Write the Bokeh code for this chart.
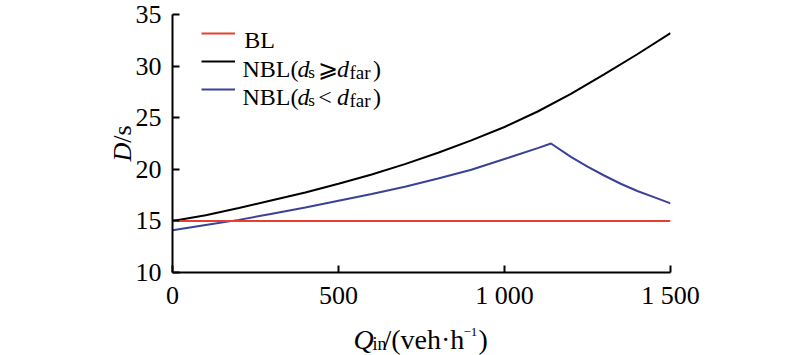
import math
from bokeh.plotting import figure
from bokeh.layouts import column, row
from bokeh.models import Label, Legend, LegendItem, FixedTicker, Range1d
from bokeh.embed import file_html
from bokeh.resources import INLINE

# ---------------- data ----------------
q_main = [0, 100, 200, 300, 400, 500, 600, 700, 800, 900, 1000, 1100, 1200, 1300, 1400, 1500]
bl = [15.0, 15.0, 15.0, 15.0, 15.0, 15.0, 15.0, 15.0, 15.0, 15.0, 15.0, 15.0, 15.0, 15.0, 15.0, 15.0]
nbl_far = [15.0, 15.55, 16.25, 17.0, 17.75, 18.6, 19.5, 20.5, 21.6, 22.8, 24.1, 25.6, 27.3, 29.2, 31.15, 33.2]

q_near = [0, 100, 200, 300, 400, 500, 600, 700, 800, 900, 1000, 1100, 1140,
          1200, 1250, 1300, 1350, 1400, 1450, 1500]
nbl_near = [14.1, 14.6, 15.1, 15.7, 16.3, 16.95, 17.6, 18.3, 19.1, 19.95, 21.0, 22.05, 22.5,
            21.2, 20.25, 19.4, 18.6, 17.9, 17.3, 16.7]

x_ticks = [0, 500, 1000, 1500]
x_tick_labels = ["0", "500", "1 000", "1 500"]
y_ticks = [10, 15, 20, 25, 30, 35]

RED = "#e5402f"
BLACK = "#000000"
BLUE = "#3a4197"
FONT = "Liberation Serif"

# ---------------- main figure ----------------
p = figure(width=668, height=320, output_backend="svg", toolbar_location=None,
           x_range=Range1d(0, 1500), y_range=Range1d(10, 35),
           min_border_left=38, min_border_right=130, min_border_top=14, min_border_bottom=48)
p.outline_line_color = None
p.xgrid.visible = False
p.ygrid.visible = False
p.background_fill_color = "white"
p.border_fill_color = "white"

for ax in (p.xaxis[0], p.yaxis[0]):
    ax.axis_line_width = 2
    ax.axis_line_color = "black"
    ax.major_tick_line_width = 2
    ax.major_tick_line_color = "black"
    ax.major_tick_in = 7
    ax.major_tick_out = 0
    ax.minor_tick_line_color = None
    ax.major_label_text_font = FONT
    ax.major_label_text_font_size = "26px"
    ax.major_label_text_color = "black"
p.xaxis.major_label_standoff = 8
p.yaxis.major_label_standoff = 11

p.xaxis.ticker = FixedTicker(ticks=x_ticks)
p.xaxis.major_label_overrides = {t: s for t, s in zip(x_ticks, x_tick_labels)}
p.yaxis.ticker = FixedTicker(ticks=y_ticks)

r_far = p.line(q_main, nbl_far, line_color=BLACK, line_width=2)
r_near = p.line(q_near, nbl_near, line_color=BLUE, line_width=2)
r_bl = p.line(q_main, bl, line_color=RED, line_width=2)

# legend (sample lines) – text drawn separately to allow italics / subscripts
legend = Legend(items=[LegendItem(label=" ", renderers=[r_bl]),
                       LegendItem(label=" ", renderers=[r_far]),
                       LegendItem(label=" ", renderers=[r_near])],
                location=(29, 169), orientation="vertical",
                glyph_width=34, glyph_height=28, label_height=28, label_width=0,
                label_standoff=0, spacing=0, padding=0, margin=0,
                label_text_font_size="1px",
                border_line_alpha=0, background_fill_alpha=0)
p.add_layout(legend)


def lab(fig, x, y, text, size, style="normal", angle=0.0, align="left", baseline="alphabetic"):
    fig.add_layout(Label(x=x, y=y, x_units="screen", y_units="screen", text=text,
                         text_font=FONT, text_font_size=size, text_font_style=style,
                         text_color="black", text_baseline=baseline, text_align=align,
                         angle=angle))


# legend texts
lab(p, 71.7, 232.7, "BL", "24px")
for base, sub_base, rel in ((203.7, 199.7, "\u2a7e"), (176.0, 172.0, "<")):
    lab(p, 70.0, base, "NBL(", "24px")
    lab(p, 125.0, base, "d", "24px", "italic")
    lab(p, 135.7, sub_base, "s", "17px")
    lab(p, 145.7, base, rel, "24px")
    lab(p, 164.5, base, "d", "24px", "italic")
    lab(p, 177.0, sub_base, "far", "19px")
    lab(p, 200.5, base, ")", "24px")


def blank(width, height):
    f = figure(width=width, height=height, output_backend="svg", toolbar_location=None,
               x_range=Range1d(0, width), y_range=Range1d(0, height),
               x_axis_type=None, y_axis_type=None, min_border=0)
    f.outline_line_color = None
    f.xgrid.visible = False
    f.ygrid.visible = False
    f.background_fill_color = "white"
    f.border_fill_color = "white"
    return f


# y axis title: D/s (rotated), panel to the left of the plot (its frame aligns with the plot frame)
fy = blank(132, 320)
lab(fy, 122.0, 120.3, "D", "26px", "italic", math.pi / 2, "center", "middle")
lab(fy, 122.0, 138.4, "/s", "26px", "normal", math.pi / 2, "center", "middle")

# x axis title: Q_in/(veh·h^-1), panel below the plot
fx = blank(800, 35)
lab(fx, 353.0, 15.7, "Q", "28px", "italic")
lab(fx, 372.0, 11.7, "in", "18px")
lab(fx, 383.0, 15.7, "/(veh\u00b7h", "28px")
lab(fx, 463.0, 24.0, "\u22121", "13px")
lab(fx, 478.0, 15.7, ")", "28px")

layout = column(row(fy, p), fx)
open("out.html", "w").write(file_html(layout, INLINE))
